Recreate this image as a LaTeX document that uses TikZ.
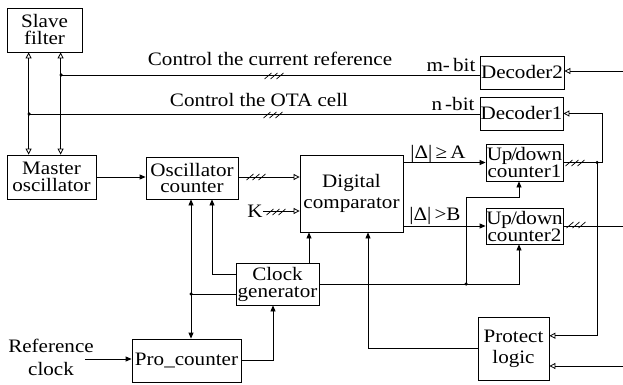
\documentclass[tikz,border=0pt]{standalone}
\usepackage{fontspec}
\setmainfont[FakeStretch=1.11]{Liberation Serif}
\usetikzlibrary{arrows.meta,calc}
\tikzset{
  busmark/.pic={\foreach \d in {-6,0,6} \draw[line width=0.7pt] (\d-3.5,3) -- (\d+3.5,-3);},
}
\begin{document}
\begin{tikzpicture}[x=1pt,y=-1pt,
  box/.style={draw, line width=0.8pt, inner sep=0pt, align=center, font=\fontsize{19}{17}\selectfont},
  lbl/.style={inner sep=0pt, font=\fontsize{19}{17}\selectfont},
  wire/.style={line width=0.8pt},
  fa/.style={-{Triangle[length=6pt,width=5pt]}},
  ffa/.style={{Triangle[length=6pt,width=5pt]}-{Triangle[length=6pt,width=5pt]}},
  oa/.style={-{Triangle[open,length=6pt,width=6pt]}},
  boa/.style={{Triangle[open,length=6pt,width=6pt]}-{Triangle[open,length=6pt,width=6pt]}},
  dot/.style={circle, fill, inner sep=0pt, minimum size=3.5pt},
]
\useasboundingbox (0,0) rectangle (623,385);

% boxes
\node[box, minimum width=75pt, minimum height=44pt] (slave) at (44.5,30) {Slave\\filter};
\node[box, minimum width=89pt, minimum height=44pt] (master) at (51.5,177) {Master\\oscillator};
\node[box, minimum width=92pt, minimum height=42pt] (osc) at (192,178) {Oscillator\\counter};
\node[box, minimum width=103pt, minimum height=77pt, font=\fontsize{19}{21}\selectfont] (comp) at (351.5,193.5) {Digital\\comparator};
\node[box, minimum width=83pt, minimum height=42pt] (clk) at (277.5,284) {Clock\\generator};
\node[box, minimum width=109pt, minimum height=43pt] (pro) at (186.5,360.5) {Pro\_counter};
\node[box, minimum width=84pt, minimum height=33pt] (dec2) at (522,72.5) {Decoder2};
\node[box, minimum width=83pt, minimum height=33pt] (dec1) at (521.5,113.5) {Decoder1};
\node[box, minimum width=77pt, minimum height=37pt] (ud1) at (524.5,162.5) {Up\kern-1.5pt/\kern-1.5pt down\\counter1};
\node[box, minimum width=77pt, minimum height=36pt] (ud2) at (524.5,226) {Up\kern-1pt/\kern-1pt down\\counter2};
\node[box, minimum width=71pt, minimum height=63pt, font=\fontsize{19}{21}\selectfont] (prot) at (513.5,348.5) {Protect\\logic};

% labels
\node[lbl] (lcur) at (270,59) {Control the current reference};
\node[lbl] (lota) at (259,100) {Control the OTA cell};
\node[lbl] (lm) at (451,65) {m-\,bit};
\node[lbl] (ln) at (453,104) {n\,-bit};
\node[lbl] (la) at (438,154) {|Δ|\,≥\,A};
\node[lbl] (lb) at (435,216) {|Δ|\,>B};
\node[lbl] (lk) at (255,211) {K};
\node[lbl, align=center, font=\fontsize{19}{23}\selectfont] (ref) at (51,357) {Reference\\clock};

% coordinates
\coordinate (t1) at (61,75);
\coordinate (t2) at (29,114);
\coordinate (in2) at (623,71);
\coordinate (j1) at (597,162.5);
\coordinate (in3) at (623,366);
\coordinate (out2) at (623,226);
\coordinate (j2) at (191,294);
\coordinate (j3) at (466,284);
\coordinate (b1) at (466,197);
\coordinate (rin) at (85,359);

% slave/master links
\draw[wire, boa] ([xshift=22pt]slave.south west) -- ([xshift=22pt]master.north west);
\draw[wire, boa] ([xshift=54pt]slave.south west) -- ([xshift=54pt]master.north west);
\draw[wire] (t1) -- (t1 -| dec2.west);
\draw[wire] (t2) -- (t2 -| dec1.west);
\node[dot] (dt1) at (t1) {};
\node[dot] (dt2) at (t2) {};
\draw[wire, oa] (in2) -- (in2 -| dec2.east);

% main chain
\draw[wire, fa] (master.east) -- (master.east -| osc.west);
\draw[wire, oa] (osc.east |- master.east) -- (master.east -| comp.west);
\draw[wire, oa] (lk.east) -- (lk.east -| comp.west);
\draw[wire, fa] (ud1.west -| comp.east) -- (ud1.west);
\draw[wire, fa] (ud2.west -| comp.east) -- (ud2.west);

% counter outputs
\draw[wire] (ud1.east) -- (j1);
\draw[wire, oa] (j1) -- ++(5,0) |- (dec1.east);
\draw[wire, oa] (j1) |- ($(prot.north east)!0.3!(prot.south east)$);
\node[dot] (dj1) at (j1) {};
\draw[wire, oa] (in3) -- (in3 -| prot.east);
\draw[wire] (ud2.east) -- (out2);

% clock generator
\draw[wire, fa] ([xshift=31.5pt]clk.north) -- ([xshift=31.5pt]clk.north |- comp.south);
\draw[wire, fa] ([yshift=10pt]clk.west) -| ([xshift=20pt]osc.south);
\draw[wire] ([yshift=-10pt]clk.west) -- (j2);
\draw[wire, ffa] (j2 |- osc.south) -- (j2 |- pro.north);
\node[dot] (dj2) at (j2) {};
\draw[wire, fa] (clk.east) -| ([xshift=-5.5pt]ud2.south);
\draw[wire, fa] (j3) -- (b1) -| ([xshift=-5.5pt]ud1.south);
\node[dot] (dj3) at (j3) {};
\draw[wire, fa] (pro.east) -| ([xshift=-4.5pt]clk.south);
\draw[wire, fa] (rin) -- (rin -| pro.west);
\draw[wire, fa] (prot.west) -| ([xshift=16.5pt]comp.south);

% bus marks
\pic at (274,76) {busmark};
\pic at (273,115) {busmark};
\pic at (256,177) {busmark};
\pic at (276,212) {busmark};
\pic at (575,163) {busmark};
\pic at (576,225) {busmark};
\end{tikzpicture}
\end{document}
